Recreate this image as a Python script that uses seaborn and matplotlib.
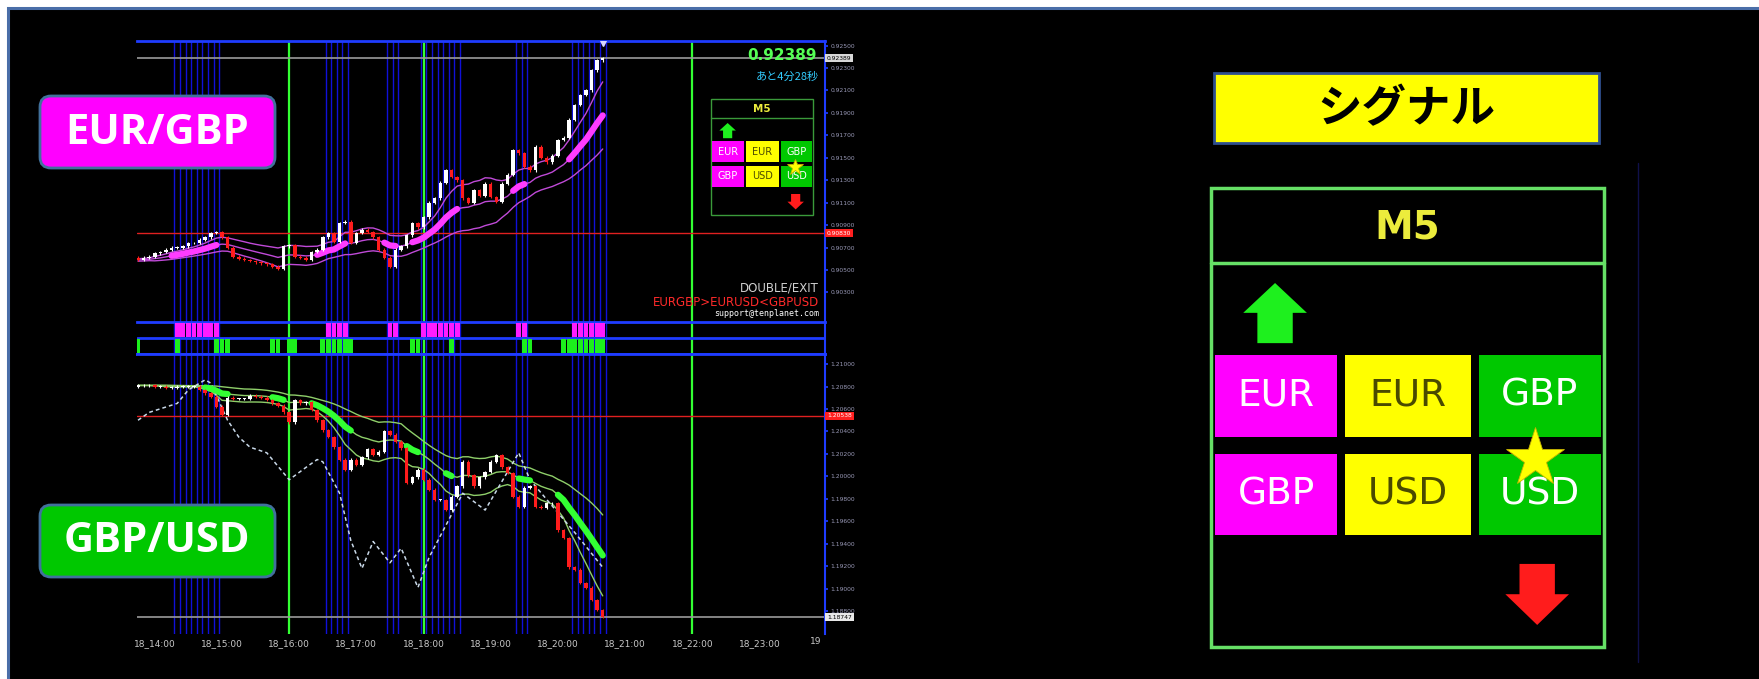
import numpy as np
import pandas as pd
import seaborn as sns
import matplotlib.pyplot as plt
from matplotlib.patches import Rectangle, FancyBboxPatch, Polygon

W, H = 1759, 679

# M5 closes, 18 Mar 13:45 -> 20:40
eurgbp_close = [0.9059, 0.9061, 0.9062, 0.9065, 0.9066, 0.9068, 0.9070, 0.9070, 0.9071, 0.9074,
                0.9074, 0.9077, 0.9079, 0.9083, 0.9084, 0.9079, 0.9070, 0.9062, 0.9060, 0.9059,
                0.9058, 0.9057, 0.9056, 0.9055, 0.9053, 0.9051, 0.9071, 0.9072, 0.9062, 0.9061,
                0.9059, 0.9066, 0.9068, 0.9079, 0.9083, 0.9075, 0.9092, 0.9093, 0.9074, 0.9083,
                0.9086, 0.9084, 0.9079, 0.9068, 0.9061, 0.9053, 0.9068, 0.9071, 0.9081, 0.9092,
                0.9088, 0.9097, 0.9110, 0.9114, 0.9128, 0.9139, 0.9133, 0.9130, 0.9114, 0.9110,
                0.9121, 0.9116, 0.9127, 0.9115, 0.9111, 0.9127, 0.9135, 0.9157, 0.9154, 0.9142,
                0.9139, 0.9160, 0.9150, 0.9146, 0.9152, 0.9166, 0.9168, 0.9184, 0.9197, 0.9206,
                0.9210, 0.9228, 0.9237, 0.92389]
gbpusd_close = [1.2081, 1.2081, 1.2081, 1.2080, 1.2080, 1.2079, 1.2079, 1.2080, 1.2080, 1.2080,
                1.2080, 1.2077, 1.2074, 1.2071, 1.2062, 1.2055, 1.2070, 1.2069, 1.2069, 1.2069,
                1.2072, 1.2071, 1.2070, 1.2068, 1.2065, 1.2063, 1.2057, 1.2048, 1.2068, 1.2065,
                1.2066, 1.2059, 1.2050, 1.2041, 1.2035, 1.2026, 1.2015, 1.2006, 1.2015, 1.2010,
                1.2017, 1.2024, 1.2019, 1.2022, 1.2040, 1.2037, 1.2031, 1.2025, 1.1994, 1.1999,
                1.2006, 1.1997, 1.1988, 1.1979, 1.1979, 1.1970, 1.1982, 1.1991, 1.2013, 1.2001,
                1.1991, 1.1999, 1.2004, 1.2013, 1.2019, 1.2008, 1.2003, 1.1982, 1.1973, 1.1990,
                1.1991, 1.1973, 1.1972, 1.1976, 1.1976, 1.1952, 1.1945, 1.1919, 1.1917, 1.1905,
                1.1901, 1.1890, 1.1881, 1.18747]
eurgbp_open0 = 0.9061
gbpusd_open0 = 1.2080

# candle index ranges where the trend line is drawn thick
eurgbp_thick = [(6, 14), (32, 37), (44, 46), (49, 57), (67, 69), (77, 83)]
gbpusd_thick = [(12, 16), (24, 26), (31, 38), (48, 50), (55, 56), (68, 70), (75, 83)]

# signal strip blocks (candle index ranges)
sell_bars = [(7, 14), (34, 37), (45, 46), (51, 57), (68, 69), (78, 83)]
buy_bars = [(0, 0), (7, 7), (14, 16), (24, 25), (27, 28), (33, 38), (49, 50), (56, 56), (69, 70), (76, 83)]

# dotted indicator on GBP/USD
dot_idx = [0, 2, 7, 9, 12, 13, 16, 18, 20, 23, 27, 30, 32, 33, 36, 38, 40, 42, 45, 47,
           50, 52, 58, 62, 68, 70, 78, 83]
dot_price = [1.2050, 1.2057, 1.2065, 1.2077, 1.2086, 1.2083, 1.2050, 1.2035, 1.2026, 1.2021,
             1.1997, 1.2008, 1.2015, 1.2013, 1.1985, 1.1943, 1.1918, 1.1942, 1.1923, 1.1936,
             1.1901, 1.1928, 1.1985, 1.1970, 1.2021, 1.1997, 1.1950, 1.1919]

hours = list(range(14, 24))
hour_labels = ["18_%d:00" % h for h in hours]
marker_hours = [16, 18, 22]
eurgbp_ref, gbpusd_ref = 0.90830, 1.20538

cell_text = [["EUR", "EUR", "GBP"], ["GBP", "USD", "USD"]]
cell_fc = [["#ff00ff", "#ffff00", "#00c800"], ["#ff00ff", "#ffff00", "#00c800"]]
cell_tc = [["white", "#4a4a00", "white"], ["white", "#4a4a00", "white"]]

sns.set_theme(style="dark")
plt.rcParams['font.family'] = ['DejaVu Sans', 'Noto Sans CJK JP']

fig = plt.figure(figsize=(W / 100, H / 100), dpi=100, facecolor="white")
fig.patches.append(Rectangle((8 / W, -0.01), 1.01, (H - 8) / H + 0.01, transform=fig.transFigure,
                             fc="black", ec="#4a6ea8", lw=2.2, zorder=-10))

def fx(x):
    return x / W

def fy(y):
    return 1 - y / H

L, R = 137, 825
ax_top = fig.add_axes([fx(L), fy(322), (R - L) / W, (322 - 41) / H])
ax_sig = fig.add_axes([fx(L), fy(354), (R - L) / W, 32 / H])
ax_bot = fig.add_axes([fx(L), fy(634), (R - L) / W, (634 - 354) / H])

t = 13.75 + np.arange(len(eurgbp_close)) / 12
BLUE = "#1f3cff"
VBLUE = "#1010d8"

for ax in (ax_top, ax_sig, ax_bot):
    ax.set_facecolor("black")
    ax.set_xlim(13.735, 23.975)
    for s in ax.spines.values():
        s.set_visible(False)
    ax.spines["right"].set_visible(True)
    ax.spines["right"].set_color(BLUE)
    ax.spines["right"].set_linewidth(1.5)
    ax.spines["top"].set_visible(True)
    ax.spines["top"].set_color(BLUE)
    ax.spines["top"].set_linewidth(2)
    ax.grid(False)
    ax.set_xticks([])
    for a, b in sell_bars:
        for k in range(a, b + 2):
            ax.axvline(13.75 + (k - 0.5) / 12, color=VBLUE, lw=1, zorder=1)
    for h in marker_hours:
        ax.axvline(h, color="#33ff33", lw=1.6, zorder=2)

ax_top.set_ylim(0.90037, 0.92541)
ax_bot.set_ylim(1.18596, 1.21090)
ax_sig.set_ylim(0, 2)
ax_sig.set_yticks([])
ax_sig.spines["bottom"].set_visible(True)
ax_sig.spines["bottom"].set_color(BLUE)
ax_sig.spines["bottom"].set_linewidth(2)
ax_sig.axhline(1, color=BLUE, lw=2)


def draw_candles(ax, close, open0):
    close = np.asarray(close)
    opn = np.r_[open0, close[:-1]]
    col = np.where(close >= opn, "#ffffff", "#ff1c1c")
    lo = np.minimum(opn, close)
    hi = np.maximum(opn, close)
    ax.vlines(t, lo - 0.00012, hi + 0.00012, colors=col, lw=0.8, zorder=5)
    ax.bar(t, np.maximum(hi - lo, 0.00005), bottom=lo, width=0.62 / 12, color=col,
           linewidth=0, zorder=6)


def draw_trend(ax, close, thick, thin_col, thick_col):
    s = pd.Series(close)
    mid = s.ewm(span=16, adjust=False).mean()
    band = 0.8 * s.rolling(20, min_periods=2).std().bfill()
    for line in (mid + band, mid, mid - band):
        sns.lineplot(x=t, y=line.values, color=thin_col, lw=1, ax=ax, legend=False, zorder=3)
    for a, b in thick:
        sns.lineplot(x=t[a:b + 1], y=mid.values[a:b + 1], color=thick_col, lw=4.5, ax=ax,
                     legend=False, zorder=4, solid_capstyle="round")


draw_trend(ax_top, eurgbp_close, eurgbp_thick, "#c04ad8", "#ff3cff")
draw_candles(ax_top, eurgbp_close, eurgbp_open0)
draw_trend(ax_bot, gbpusd_close, gbpusd_thick, "#8fcf6a", "#33ff33")
sns.lineplot(x=13.75 + np.array(dot_idx) / 12, y=dot_price, ax=ax_bot, color="#c8d8e8", lw=1.1,
             linestyle=(0, (2.5, 2)), legend=False, zorder=3)
draw_candles(ax_bot, gbpusd_close, gbpusd_open0)

ax_top.axhline(eurgbp_close[-1], color="#9a9a9a", lw=1.2, zorder=2)
ax_top.axhline(eurgbp_ref, color="#e02020", lw=1, zorder=2)
ax_bot.axhline(gbpusd_close[-1], color="#9a9a9a", lw=1.2, zorder=2)
ax_bot.axhline(gbpusd_ref, color="#e02020", lw=1, zorder=2)
ax_top.plot([t[-1]], [0.92520], marker="v", ms=4, color="#d8d8ff", zorder=6)

for a, b in sell_bars:
    idx = np.arange(a, b + 1)
    ax_sig.bar(t[idx], 0.86, bottom=1.07, width=0.86 / 12, color="#ff1cff", linewidth=0, zorder=4)
for a, b in buy_bars:
    idx = np.arange(a, b + 1)
    ax_sig.bar(t[idx], 0.86, bottom=0.07, width=0.86 / 12, color="#1cf01c", linewidth=0, zorder=4)

# right price scale
for ax, ticks in ((ax_top, np.arange(0.9030, 0.9251, 0.0020)), (ax_bot, np.arange(1.1880, 1.2101, 0.0020))):
    ax.yaxis.tick_right()
    ax.set_yticks(ticks)
    ax.set_yticklabels(["%.5f" % v for v in ticks])
    ax.tick_params(axis="y", length=2, color=BLUE, labelsize=4.3, labelcolor="#9a9ab8", pad=2)
for ax, val, fc, tc in ((ax_top, eurgbp_close[-1], "#d8d8d8", "black"), (ax_top, eurgbp_ref, "#ff2020", "white"),
                        (ax_bot, gbpusd_ref, "#ff2020", "white"), (ax_bot, gbpusd_close[-1], "#e8e8e8", "black")):
    ax.text(1.003, val, "%.5f" % val, transform=ax.get_yaxis_transform(), ha="left", va="center",
            fontsize=4.3, color=tc, zorder=10, bbox=dict(boxstyle="square,pad=0.3", fc=fc, ec="none"))

ax_bot.set_xticks(hours)
ax_bot.set_xticklabels(hour_labels)
ax_bot.tick_params(axis="x", length=0, pad=4, labelsize=6.5, labelcolor="#c8c8c8")

# overlay in pixel coordinates
ov = fig.add_axes([0, 0, 1, 1])
ov.set_xlim(0, W)
ov.set_ylim(H, 0)
ov.axis("off")
ov.patch.set_alpha(0)

ov.plot([1638, 1638], [163, 662], color="#10104a", lw=1, zorder=1)
ov.text(810, 642, "19", ha="left", va="center", fontsize=6.5, color="#c8c8c8")
ov.text(817, 56, "%.5f" % eurgbp_close[-1], ha="right", va="center", color="#55ff55", fontsize=11,
        fontweight="bold")
ov.text(819, 77, "あと4分28秒", ha="right", va="center", color="#33ccff", fontsize=8,
        family=["Noto Sans CJK JP", "DejaVu Sans"])
ov.text(819, 288, "DOUBLE/EXIT", ha="right", va="center", color="#d0d0d0", fontsize=8.5,
        family=["Liberation Sans Narrow", "DejaVu Sans"])
ov.text(819, 302, "EURGBP>EURUSD<GBPUSD", ha="right", va="center", color="#ff2a2a", fontsize=8.5,
        family=["Liberation Sans Narrow", "DejaVu Sans"])
ov.text(819, 314, "support@tenplanet.com", ha="right", va="center", color="white", fontsize=6,
        family=["DejaVu Sans Mono"])

# pair labels
for y0, fc, label in ((96, "#ff00ff", "EUR/GBP"), (505, "#00c800", "GBP/USD")):
    ov.add_patch(FancyBboxPatch((40, y0), 235, 72, boxstyle="round,pad=0,rounding_size=11",
                                fc=fc, ec="#41719c", lw=2, zorder=20))
    ov.text(157, y0 + 37, label, ha="center", va="center", color="white", fontsize=30,
            fontweight="bold", family=["Open Sans", "DejaVu Sans"], zorder=21)


def signal_panel(x0, y0, w, h, edge, lw, fs_m5, fs_cell, star):
    ov.add_patch(Rectangle((x0, y0), w, h, fill=False, ec=edge, lw=lw, zorder=20))
    ov.plot([x0, x0 + w], [y0 + 0.163 * h] * 2, color=edge, lw=lw, zorder=20)
    ov.text(x0 + 0.5 * w, y0 + 0.087 * h, "M5", ha="center", va="center", color="#ecec3c",
            fontsize=fs_m5, fontweight="bold", zorder=21)
    cx, hw, sw = x0 + 0.163 * w, 0.081 * w, 0.045 * w
    top, base, bot = y0 + 0.207 * h, y0 + 0.272 * h, y0 + 0.338 * h
    ov.add_patch(Polygon([(cx, top), (cx + hw, base), (cx + sw, base), (cx + sw, bot), (cx - sw, bot),
                          (cx - sw, base), (cx - hw, base)], fc="#1ef01e", ec="none", zorder=21))
    cx = x0 + 0.830 * w
    top, base, bot = y0 + 0.819 * h, y0 + 0.885 * h, y0 + 0.952 * h
    ov.add_patch(Polygon([(cx, bot), (cx + hw, base), (cx + sw, base), (cx + sw, top), (cx - sw, top),
                          (cx - sw, base), (cx - hw, base)], fc="#ff1c1c", ec="none", zorder=21))
    rows = [(0.364, 0.542), (0.580, 0.756)]
    cols = [(0.010, 0.321), (0.341, 0.662), (0.682, 0.992)]
    for r, (ya, yb) in enumerate(rows):
        for c, (xa, xb) in enumerate(cols):
            ov.add_patch(Rectangle((x0 + xa * w, y0 + ya * h), (xb - xa) * w, (yb - ya) * h,
                                   fc=cell_fc[r][c], ec="none", zorder=21))
            ov.text(x0 + (xa + xb) / 2 * w, y0 + (ya + yb) / 2 * h, cell_text[r][c], ha="center",
                    va="center", color=cell_tc[r][c], fontsize=fs_cell, zorder=22)
    ov.plot([x0 + 0.824 * w], [y0 + 0.588 * h], marker="*", ms=star, color="#ffff00",
            mec="#c8b400", mew=0.6, zorder=23)


signal_panel(1211, 188, 393, 459, "#66e066", 2.5, 28, 27, 44)
signal_panel(711, 99, 102, 116, "#3a9a3a", 1, 7.5, 7, 12)

ov.add_patch(Rectangle((1214, 73), 385, 70, fc="#ffff00", ec="#2f4f8f", lw=2, zorder=20))
ov.text(1406, 109, "シグナル", ha="center", va="center", color="black", fontsize=32,
        fontweight="bold", family=["Noto Sans CJK JP", "DejaVu Sans"], zorder=21)

fig.savefig("out.png", dpi=100, facecolor=fig.get_facecolor())
